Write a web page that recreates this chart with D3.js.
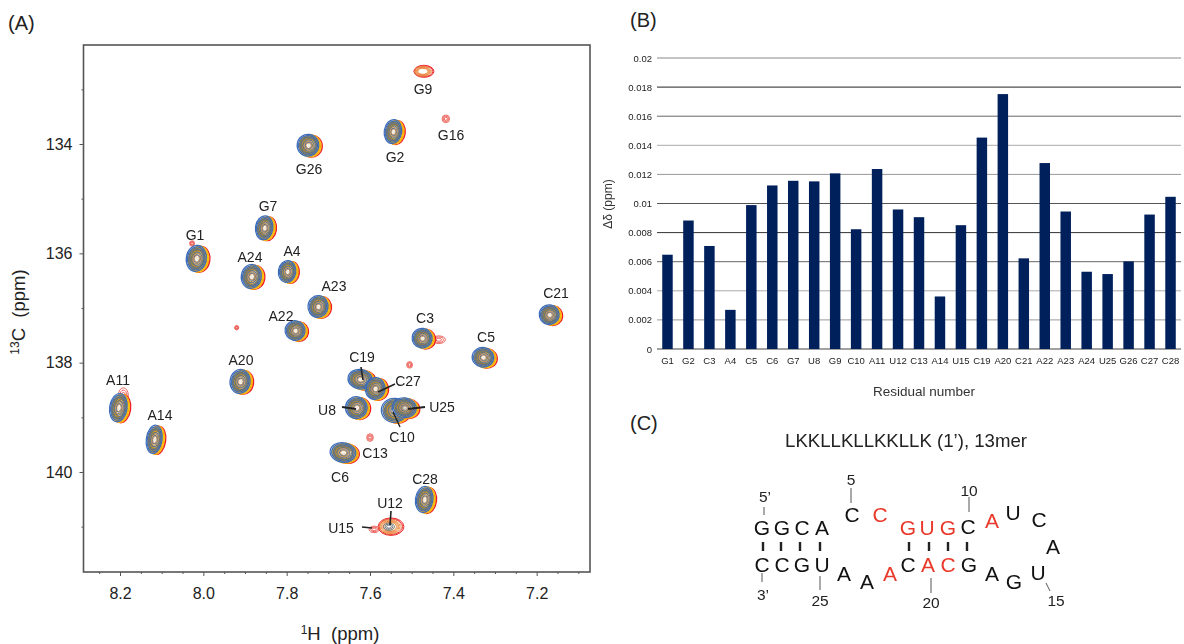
<!DOCTYPE html>
<html>
<head>
<meta charset="utf-8">
<script src="https://cdnjs.cloudflare.com/ajax/libs/d3/7.8.5/d3.min.js"></script>
<style>
  html, body { margin: 0; padding: 0; background: #fff; }
  svg { display: block; font-family: "Liberation Sans", Arial, sans-serif; }
  text { fill: #222; }
</style>
</head>
<body>
<svg id="fig" width="1184" height="644"></svg>
<script>
'use strict';

// ── Panel A: peak table (ppm) ────────────────────────────────
const residues = ['G9','G2','G26','G7','G1','A24','A4','A23','A22','C21','C3','C5','A20','A11','A14','C19','C27','U8','C10','U25','C6','C28','U12'];
const hShift   = [7.473,7.543,7.747,7.852,8.015,7.883,7.797,7.723,7.778,7.168,7.473,7.327,7.91,8.202,8.116,7.622,7.586,7.631,7.54,7.516,7.663,7.468,7.552];
const cShift   = [132.67,133.78,134.03,135.54,136.1,136.43,136.34,136.98,137.42,137.13,137.56,137.91,138.35,138.83,139.41,138.31,138.48,138.83,138.88,138.83,139.65,140.51,141.0];
const hWidth   = [.024,.021,.026,.021,.024,.024,.021,.024,.024,.024,.024,.026,.024,.021,.019,.029,.024,.026,.031,.029,.031,.021,.031];
const cWidth   = [.11,.22,.2,.22,.24,.22,.2,.2,.18,.18,.18,.18,.22,.26,.26,.18,.2,.2,.22,.18,.18,.24,.16];
const peakKind = ['warm','full','full','full','full','full','full','full','full','full','full','full','full','full','full','full','full','full','full','full','full','full','warm'];

// weak red contours, seen in only one spectrum
const weakH  = [7.418,7.6,7.505,7.92,8.027,8.192,7.435,7.595,7.59];
const weakC  = [133.54,139.37,138.04,137.36,135.82,138.6,137.58,138.27,141.05];
const weakHW = [.009,.008,.007,.005,.006,.012,.016,.007,.012];
const weakCW = [.07,.07,.06,.04,.05,.14,.07,.06,.06];

const hTicks      = [8.2,8.0,7.8,7.6,7.4,7.2];
const hMinorTicks = [8.25,8.15,8.1,8.05,7.95,7.9,7.85,7.75,7.7,7.65,7.55,7.5,7.45,7.35,7.3,7.25,7.15,7.1];
const cTicks      = [134,136,138,140];
const cMinorTicks = [133,135,137,139,141];

// ── Panel B: shift change per residue ────────────────────────
const barResidues = ['G1','G2','C3','A4','C5','C6','G7','U8','G9','C10','A11','U12','C13','A14','U15','C19','A20','C21','A22','A23','A24','U25','G26','C27','C28'];
const barValues   = [.00648,.00883,.00708,.00269,.00989,.01124,.01156,.01152,.01207,.00823,.01237,.00959,.00906,.00361,.00851,.01453,.01752,.00623,.01278,.00945,.00531,.00515,.00602,.00924,.01046];
const barTicks    = [0,.002,.004,.006,.008,.01,.012,.014,.016,.018,.02];
const barTickText = ['0','0.002','0.004','0.006','0.008','0.01','0.012','0.014','0.016','0.018','0.02'];
const gridShade   = ['#444','#999','#aaa','#666','#333','#555','#999','#aaa','#666','#222','#888'];

const svg = d3.select('#fig');

const soft = svg.append('defs').append('filter').attr('id', 'soft');
soft.append('feGaussianBlur').attr('stdDeviation', .45);

// ── helpers ──────────────────────────────────────────────────
function label(sel, x, y, str, size, anchor) {
  return sel.append('text').attr('x', x).attr('y', y)
    .attr('font-size', size).attr('text-anchor', anchor || 'middle').text(str);
}

function leader(sel, x1, y1, x2, y2, w, color) {
  sel.append('line').attr('x1', x1).attr('y1', y1).attr('x2', x2).attr('y2', y2)
    .attr('stroke', color || '#222').attr('stroke-width', w);
}

label(svg, 8, 30, '(A)', 20, 'start');
label(svg, 630, 27, '(B)', 20, 'start');
label(svg, 630, 430, '(C)', 20, 'start');

// ── Panel A ──────────────────────────────────────────────────
const x1H = d3.scaleLinear().domain([8.2876, 7.072]).range([83.5, 590]);
const y13C = d3.scaleLinear().domain([134, 140]).range([144, 472]);
const boxTop = 45, boxBottom = 572;

const panelA = svg.append('g');

const axisH = panelA.append('g').attr('transform', `translate(0,${boxBottom})`)
  .call(d3.axisBottom(x1H).tickValues(hTicks).tickSize(4).tickPadding(12).tickFormat(d3.format('.1f')));
panelA.append('g').attr('transform', `translate(0,${boxBottom})`)
  .call(d3.axisBottom(x1H).tickValues(hMinorTicks).tickSize(2).tickFormat(''));
const axisC = panelA.append('g').attr('transform', 'translate(83.5,0)')
  .call(d3.axisLeft(y13C).tickValues(cTicks).tickSize(4).tickPadding(7).tickFormat(d3.format('d')));
panelA.append('g').attr('transform', 'translate(83.5,0)')
  .call(d3.axisLeft(y13C).tickValues(cMinorTicks).tickSize(2).tickFormat(''));
panelA.selectAll('.domain').remove();
panelA.selectAll('.tick line').attr('stroke', '#555');
axisH.selectAll('text').attr('font-size', 16).attr('font-family', 'inherit').attr('fill', '#222');
axisC.selectAll('text').attr('font-size', 16).attr('font-family', 'inherit').attr('fill', '#222');

panelA.append('rect').attr('x', 83.5).attr('y', boxTop).attr('width', 506.5).attr('height', boxBottom - boxTop)
  .attr('fill', 'none').attr('stroke', '#555').attr('stroke-width', 1.6);

// axis titles with the isotope mass raised
const hTitle = panelA.append('text').attr('x', 340).attr('y', 640).attr('font-size', 18.5).attr('text-anchor', 'middle');
hTitle.append('tspan').text('1').attr('font-size', 12).attr('dy', -6);
hTitle.append('tspan').text('H\u00a0 (ppm)').attr('dy', 6);
const cTitle = panelA.append('text').attr('transform', 'translate(25,312) rotate(-90)').attr('font-size', 18.5).attr('text-anchor', 'middle');
cTitle.append('tspan').text('13').attr('font-size', 12).attr('dy', -6);
cTitle.append('tspan').text('C\u00a0 (ppm)').attr('dy', 6);

const RING_LEVELS = [1, .88, .76, .64, .52, .4, .28, .16];
const peaks = residues.map((r, i) => ({ r, h: hShift[i], c: cShift[i], hw: hWidth[i], cw: cWidth[i], kind: peakKind[i] }));

function rings(sel, d, dx, dy, color, levels, w) {
  const rx = x1H(d.h - d.hw) - x1H(d.h);
  const ry = y13C(d.c + d.cw) - y13C(d.c);
  sel.append('g')
    .attr('transform', `translate(${x1H(d.h) + dx},${y13C(d.c) + dy}) rotate(${d.kind === 'full' ? 8 : 0})`)
    .selectAll('ellipse').data(levels).join('ellipse')
    .attr('rx', l => rx * l).attr('ry', l => ry * l)
    .attr('fill', 'none').attr('stroke', color).attr('stroke-width', w || 1);
}

const peakLayer = panelA.append('g').attr('filter', 'url(#soft)');
weakH.forEach((h, i) => {
  rings(peakLayer, { h, c: weakC[i], hw: weakHW[i], cw: weakCW[i], kind: 'weak' }, 0, 0, '#e8413a', [1, .7, .4], .8);
});

peaks.forEach(d => {
  const g = peakLayer.append('g');
  if (d.kind === 'warm') {
    rings(g, d, 1, 0, '#ee2a2a', [1, .9], 1);
    rings(g, d, 0, 0, '#f0a030', [.78, .64, .5], 1);
    rings(g, d, 0, 0, '#e86a50', [.88, .7, .56], .6);
    if (d.r === 'U12') rings(g, d, -1, 0, '#777', [.42, .3, .18], 1);
    return;
  }
  rings(g, d, 2.8, .6, '#ee1c25', [1, .9, .8, .7], 1.2);
  rings(g, d, 1.5, .3, '#fcc30b', [1, .9, .8, .7, .6], 1.2);
  rings(g, d, -.8, -.4, '#3d6cb9', RING_LEVELS.slice(0, 3), 1.2);
  rings(g, d, -.5, -.2, '#85794f', RING_LEVELS.slice(2, 7), 1.1);
  rings(g, d, -.2, -.1, '#4f6fa8', [.72, .5, .3], .8);
  rings(g, d, 0, 0, '#d9a36a', [.42, .24], .8);
  rings(g, d, 0, 0, '#eee8dc', [.1], 1.2);
});

// peak names sit next to the peaks, placed by hand
const peakLabelAt = {
  G9:[423,94], G16:[451,140], G2:[395,162], G26:[309,174], G7:[268,211], G1:[195,240],
  A24:[250,262], A4:[292,256], A23:[334,291], A22:[281,321], C21:[556,298], C3:[425,323],
  C5:[486,342], A20:[241,365], A11:[118,385], A14:[160,420], C19:[362,362], C27:[408,386],
  U8:[327,415], U25:[442,412], C10:[402,442], C13:[375,458], C6:[340,482], C28:[425,484],
  U12:[390,508], U15:[341,533]
};
Object.entries(peakLabelAt).forEach(([name, p]) => label(panelA, p[0], p[1], name, 14));

leader(panelA, 361, 367, 363, 380, 1.6);
leader(panelA, 395, 384, 378, 392, 1.6);
leader(panelA, 342, 407, 356, 409, 2);
leader(panelA, 425, 407, 408, 409, 2);
leader(panelA, 400, 427, 393, 412, 1.4);
leader(panelA, 391, 511, 390, 525, 1.6);
leader(panelA, 362, 527, 372, 528, 1.6);

// ── Panel B ──────────────────────────────────────────────────
const xBar = d3.scaleBand().domain(barResidues).range([657, 1181]).paddingInner(.5).paddingOuter(.25);
const yBar = d3.scaleLinear().domain([0, .02]).range([349, 58]);
const panelB = svg.append('g');

panelB.append('g').selectAll('line').data(barTicks).join('line')
  .attr('x1', 657).attr('x2', 1181)
  .attr('y1', d => yBar(d)).attr('y2', d => yBar(d))
  .attr('stroke', (d, i) => gridShade[i]).attr('stroke-width', 1);

panelB.append('g').selectAll('rect').data(barResidues).join('rect')
  .attr('x', d => xBar(d))
  .attr('y', (d, i) => yBar(barValues[i]))
  .attr('width', xBar.bandwidth())
  .attr('height', (d, i) => yBar(0) - yBar(barValues[i]))
  .attr('fill', '#00205c');

panelB.append('g').attr('transform', 'translate(657,0)')
  .call(d3.axisLeft(yBar).tickValues(barTicks).tickSize(0).tickPadding(5).tickFormat((d, i) => barTickText[i]));
panelB.append('g').attr('transform', 'translate(0,349)')
  .call(d3.axisBottom(xBar).tickSize(0).tickPadding(8));
panelB.selectAll('.domain').remove();
panelB.selectAll('g.tick text').attr('font-size', 9.5).attr('font-family', 'inherit').attr('fill', '#333');

label(panelB, 924, 396, 'Residual number', 13.5).style('fill', '#333');
label(panelB, 0, 0, 'Δδ (ppm)', 12).attr('transform', 'translate(612,204) rotate(-90)').style('fill', '#333');

// ── Panel C: secondary structure sketch ──────────────────────
const panelC = svg.append('g');
label(panelC, 906, 447, 'LKKLLKLLKKLLK (1’), 13mer', 18.6);

const rnaLetters = 'GGCACCGUGCAUCAUGAGCACAAAUGCC'.split('');
const rnaRed = [6,7,8,9,11,19,20,22];
const rnaAt = [[762,527],[782,527],[802,527],[822,527],[852,514],[880,514],[908,527],[927,527],[948,527],[968,526],[992,520],[1013,512],[1039,519],[1053,546],[1038,572],[1014,581],[992,573],[969,564],[948,564],[928,564],[908,564],[890,573],[867,581],[844,573],[822,564],[802,564],[782,564],[762,564]];

panelC.append('g').selectAll('text').data(rnaLetters).join('text')
  .attr('x', (d, i) => rnaAt[i][0])
  .attr('y', (d, i) => rnaAt[i][1] + 7.5)
  .attr('text-anchor', 'middle').attr('font-size', 21)
  .style('fill', (d, i) => rnaRed.includes(i + 1) ? '#e8392a' : '#111')
  .text(d => d);

[763,781,800,820,909,929,948,967].forEach(x => leader(panelC, x, 542, x, 551, 2.4));
leader(panelC, 764, 507, 764, 515, 1, '#555');
leader(panelC, 762, 573, 762, 582, 1, '#555');
leader(panelC, 851, 488, 851, 503, 1, '#555');
leader(panelC, 969, 497, 969, 512, 1, '#555');
leader(panelC, 820, 576, 820, 590, 1, '#555');
leader(panelC, 931, 578, 931, 593, 1, '#555');
leader(panelC, 1046, 583, 1050, 591, 1, '#555');

[['5’',765,502],['3’',763,600],['5',851,485],['10',969,496],['15',1056,606],['20',931,608],['25',820,606]]
  .forEach(t => label(panelC, t[1], t[2], t[0], 15.5));
</script>
</body>
</html>
